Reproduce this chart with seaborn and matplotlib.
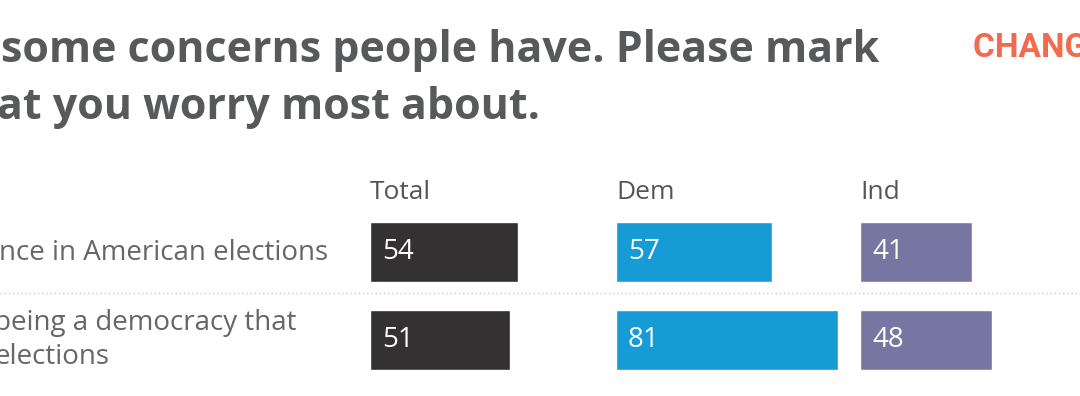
import numpy as np
import pandas as pd
import matplotlib.pyplot as plt
import seaborn as sns
from matplotlib.lines import Line2D

# ---------------------------------------------------------------------
# Datos
# ---------------------------------------------------------------------
preguntas = ["nce in American elections", "being a democracy that\nelections"]
grupos = ["Total", "Dem", "Ind"]
valores_total = [54, 51]
valores_dem = [57, 81]
valores_ind = [41, 48]
colores = ["#333132", "#169bd5", "#7776a3"]

titulo_l1 = "some concerns people have. Please mark"
titulo_l2 = "at you worry most about."
logo = "CHANGE RESEARCH"

W, H = 1080, 396
PX_POR_PUNTO = 2.74  # px por punto porcentual


def fx(x):
    return x / W


def fy(y):
    return 1 - y / H


sns.set_theme(style="white")
plt.rcParams["font.family"] = ["Open Sans", "DejaVu Sans"]

fig = plt.figure(figsize=(W / 100, H / 100), dpi=100)
fig.patch.set_facecolor("white")

# Título (recortado a la izquierda como en la referencia)
color_titulo = "#58595b"
fig.text(fx(1), fy(62), titulo_l1, fontsize=31, fontweight="bold",
         color=color_titulo, ha="left", va="baseline")
fig.text(fx(-3), fy(119), titulo_l2, fontsize=31, fontweight="bold",
         color=color_titulo, ha="left", va="baseline")

# Logo
fig.text(fx(973), fy(57), logo, fontsize=24, fontweight="bold",
         family=["Roboto", "DejaVu Sans"], color="#f26b4f",
         ha="left", va="baseline")

# Etiquetas de filas
color_lbl = "#666666"
fs_lbl = 20
fig.text(fx(-1), fy(260), preguntas[0], fontsize=fs_lbl, color=color_lbl,
         ha="left", va="baseline")
fig.text(fx(-6), fy(330), preguntas[1].split("\n")[0], fontsize=fs_lbl,
         color=color_lbl, ha="left", va="baseline")
fig.text(fx(-6), fy(364), preguntas[1].split("\n")[1], fontsize=fs_lbl,
         color=color_lbl, ha="left", va="baseline")

# Línea separadora punteada
fig.add_artist(Line2D([0, 1], [fy(293), fy(293)], transform=fig.transFigure,
                      color="#cccccc", linewidth=1, linestyle=(0, (1, 2))))

# Columnas de barras
columnas = [
    (370, 246, valores_total),
    (616, 244, valores_dem),
    (860, 220, valores_ind),
]
centro_fila0, paso_fila = 252, 88

for (x0, ancho, vals), grupo, color in zip(columnas, grupos, colores):
    ax = fig.add_axes([fx(x0), 0, fx(ancho), 1])
    df = pd.DataFrame({"pregunta": [0, 1], "valor": vals})
    sns.barplot(data=df, y="pregunta", x="valor", orient="h", color=color,
                saturation=1, width=60 / paso_fila, ax=ax, errorbar=None)
    ax.set_xlim(0, ancho / PX_POR_PUNTO)
    ax.set_ylim((H - centro_fila0) / paso_fila, -centro_fila0 / paso_fila)
    ax.axis("off")
    for i, v in enumerate(vals):
        ax.text(12 / PX_POR_PUNTO, i, str(v), color="white", fontsize=20,
                ha="left", va="center")
    fig.text(fx(x0), fy(199), grupo, fontsize=19, color="#555555",
             ha="left", va="baseline")

fig.savefig("out.png", dpi=100)
